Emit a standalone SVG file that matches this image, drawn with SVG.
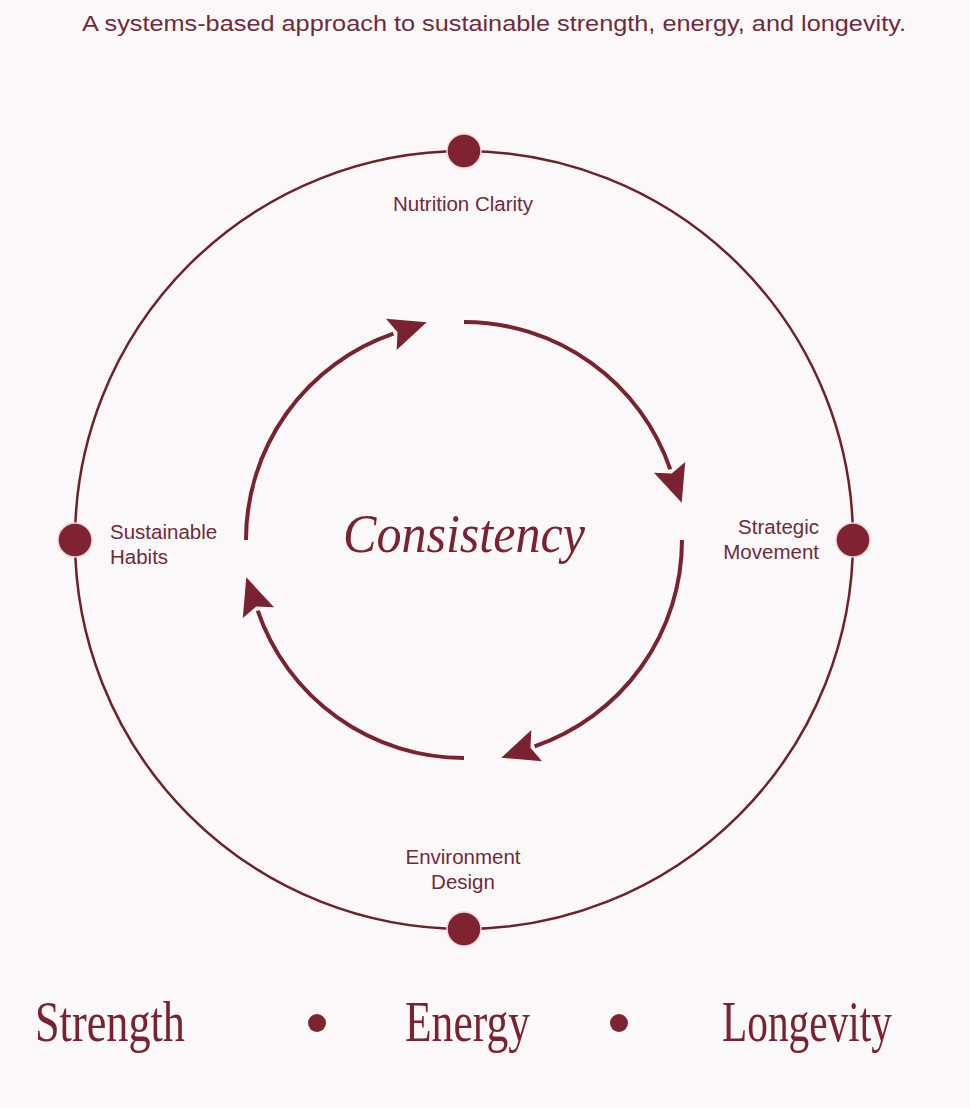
<svg xmlns="http://www.w3.org/2000/svg" width="970" height="1108" viewBox="0 0 970 1108">
<defs>
<style>
.lbl{font-family:"Liberation Sans",Arial,sans-serif;font-size:20.5px;fill:#6f2b3a}
.arc{fill:none;stroke:#7a2232;stroke-width:4}
.node{fill:#7f2232;stroke:#f2d6d9;stroke-width:1.5}
.big{font-family:"Liberation Serif","Times New Roman",serif;font-size:56px;fill:#7a2232}
</style>
<marker id="ah" markerUnits="userSpaceOnUse" markerWidth="44" markerHeight="40" viewBox="-2 -17 40 34" refX="2" refY="0" orient="auto">
<path d="M0,-15 L34,0 L0,15 L6,0 Z" fill="#7a2232"/>
</marker>
</defs>
<rect width="970" height="1108" fill="#faf8f8"/>
<text x="494" y="31" text-anchor="middle" font-family="Liberation Sans,Arial,sans-serif" font-size="22" fill="#6f2b3a" textLength="824" lengthAdjust="spacingAndGlyphs">A systems-based approach to sustainable strength, energy, and longevity.</text>
<g id="connectors">
<circle cx="464" cy="540" r="389" fill="none" stroke="#6f1f2d" stroke-width="2.5"/>
<path class="arc" d="M464,322 A218,218 0 0 1 670.3,469.4" marker-end="url(#ah)"/>
<path class="arc" d="M682,540 A218,218 0 0 1 534.6,746.3" marker-end="url(#ah)"/>
<path class="arc" d="M464,758 A218,218 0 0 1 257.7,610.6" marker-end="url(#ah)"/>
<path class="arc" d="M246,540 A218,218 0 0 1 393.4,333.7" marker-end="url(#ah)"/>
</g>
<g id="nutrition">
<circle class="node" cx="464" cy="151" r="17"/>
<text class="lbl" x="463" y="211" text-anchor="middle">Nutrition Clarity</text>
</g>
<g id="movement">
<circle class="node" cx="853" cy="540" r="17"/>
<text class="lbl" x="819" y="534" text-anchor="end">Strategic</text>
<text class="lbl" x="819" y="559" text-anchor="end">Movement</text>
</g>
<g id="environment">
<circle class="node" cx="464" cy="929" r="17"/>
<text class="lbl" x="463" y="864" text-anchor="middle">Environment</text>
<text class="lbl" x="463" y="889" text-anchor="middle">Design</text>
</g>
<g id="habits">
<circle class="node" cx="75" cy="540" r="17"/>
<text class="lbl" x="110" y="539">Sustainable</text>
<text class="lbl" x="110" y="564">Habits</text>
</g>
<g id="center">
<text x="464" y="552" text-anchor="middle" font-family="Liberation Serif,Times New Roman,serif" font-style="italic" font-size="54" fill="#7a2232" textLength="242" lengthAdjust="spacingAndGlyphs">Consistency</text>
</g>
<g id="footer">
<text class="big" x="35" y="1041" textLength="150" lengthAdjust="spacingAndGlyphs">Strength</text>
<circle cx="317" cy="1023" r="9" fill="#7f2232"/>
<text class="big" x="405" y="1041" textLength="125" lengthAdjust="spacingAndGlyphs">Energy</text>
<circle cx="619" cy="1023" r="9" fill="#7f2232"/>
<text class="big" x="722" y="1041" textLength="170" lengthAdjust="spacingAndGlyphs">Longevity</text>
</g>
</svg>
